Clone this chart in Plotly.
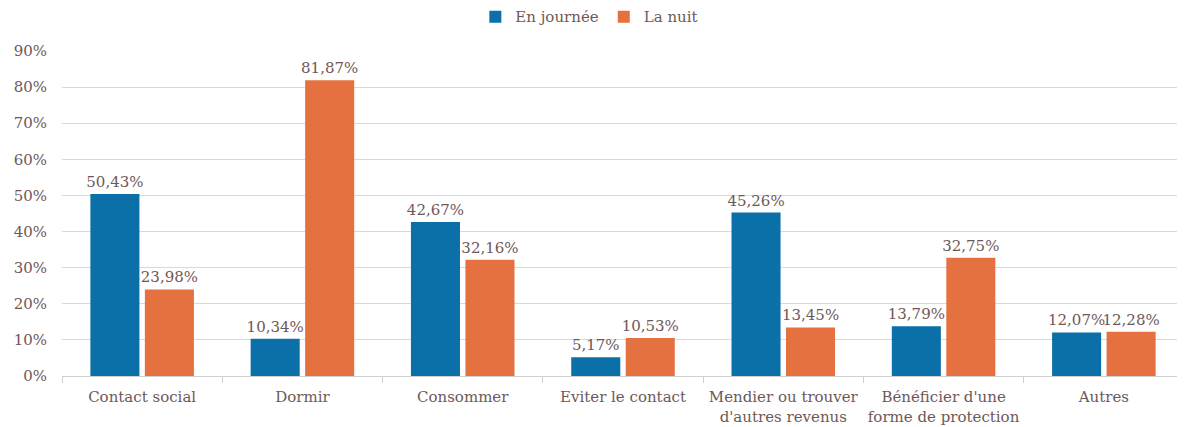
import plotly.graph_objects as go

categories = ["Contact social", "Dormir", "Consommer", "Eviter le contact",
              "Mendier ou trouver<br>d'autres revenus",
              "Bénéficier d'une<br>forme de protection", "Autres"]
en_journee = [50.43, 10.34, 42.67, 5.17, 45.26, 13.79, 12.07]
la_nuit = [23.98, 81.87, 32.16, 10.53, 13.45, 32.75, 12.28]
y_ticks = [0, 10, 20, 30, 40, 50, 60, 70, 80, 90]
y_tick_labels = ["0%", "10%", "20%", "30%", "40%", "50%", "60%", "70%", "80%", "90%"]

BLUE = "#0b70a8"
ORANGE = "#e57040"
TXT = "#6e5858"
FONT = "DejaVu Serif"

fig = go.Figure()
for name, vals, col in [("En journée", en_journee, BLUE), ("La nuit", la_nuit, ORANGE)]:
    fig.add_trace(go.Bar(name=name, x=categories, y=vals,
                         marker=dict(color=col, line=dict(width=0)),
                         texttemplate="%{y:.2f}%", textposition="outside",
                         constraintext="none",
                         textfont=dict(family=FONT, size=15, color=TXT), cliponaxis=False))

fig.update_layout(
    width=1177, height=419,
    margin=dict(l=54, r=1, t=43, b=51, autoexpand=False),
    paper_bgcolor="white", plot_bgcolor="white",
    separators=", ",
    barmode="group", bargap=0.32, bargroupgap=0.1,
    font=dict(family=FONT, size=15, color=TXT),
    legend=dict(orientation="h", x=0.47, xanchor="center", y=1.105, yanchor="middle",
                font=dict(family=FONT, size=15, color=TXT),
                traceorder="normal"),
    xaxis=dict(showgrid=False, tickson="boundaries", ticks="outside", ticklen=6,
               tickcolor="#d0d0d0", showline=True, linecolor="#d0d0d0", linewidth=1,
               tickangle=0, automargin=False, ticklabelstandoff=7,
               tickfont=dict(family=FONT, size=15, color=TXT)),
    yaxis=dict(range=[0, 90], tickvals=y_ticks, ticktext=y_tick_labels, showgrid=True,
               gridcolor="#d9d9d9", gridwidth=1, zeroline=False, showline=False,
               ticklabelstandoff=14, automargin=False,
               tickfont=dict(family=FONT, size=15, color=TXT)),
)

fig.write_html("out.html")
